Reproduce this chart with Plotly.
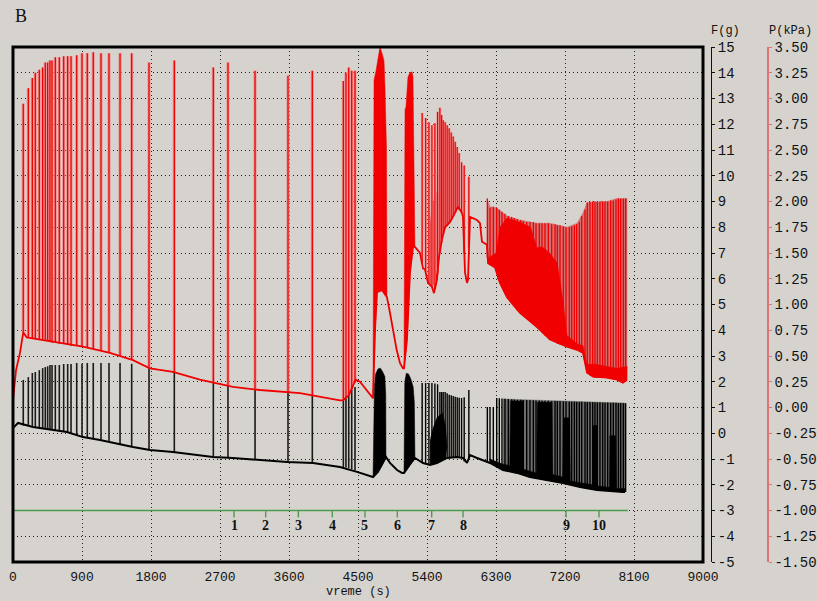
import plotly.graph_objects as go

BG = "#d6d3ce"
RED = "#f00000"
PINK = "#d27272"
HALO = "#e99a9a"
GREEN = "#4f9a4f"
FONT = "Courier New, Liberation Mono, monospace"

# ---------------- axes ----------------
x_ticks = [0, 900, 1800, 2700, 3600, 4500, 5400, 6300, 7200, 8100, 9000]
f_ticks = [-5, -4, -3, -2, -1, 0, 1, 2, 3, 4, 5, 6, 7, 8, 9, 10, 11, 12, 13, 14, 15]
p_ticks = [-1.5, -1.25, -1.0, -0.75, -0.5, -0.25, 0.0, 0.25, 0.5, 0.75, 1.0,
           1.25, 1.5, 1.75, 2.0, 2.25, 2.5, 2.75, 3.0, 3.25, 3.5]

# ---------------- red trace: pressure P (kPa) ----------------
red_base_t = [0, 39, 91, 134, 179, 482, 913, 1265, 1565, 1786, 2086, 2438, 2869, 3221, 3743,
              4264, 4304, 4380, 4470, 4526, 4591, 4657, 4696, 4722, 4748, 4813, 4878, 4917,
              4960, 5004, 5048, 5087, 5100, 5139, 5178, 5217, 5243, 5309, 5348, 5374, 5413,
              5465, 5491, 5530, 5556, 5595, 5635, 5700, 5765, 5804, 5856, 5869, 5896, 5922,
              5935, 5948, 5961, 6052, 6091, 6117, 6183, 6196, 6287, 6352, 6443, 6613, 6835,
              7004, 7226, 7357, 7435, 7487, 7565, 7748, 7878, 7956, 8009]
red_base_p = [0.07, 0.36, 0.53, 0.73, 0.68, 0.64, 0.59, 0.53, 0.46, 0.38, 0.345, 0.27, 0.20,
              0.17, 0.14, 0.07, 0.07, 0.12, 0.27, 0.25, 0.19, 0.12, 0.09, 0.75, 1.12, 1.14,
              1.07, 0.92, 0.72, 0.56, 0.43, 0.38, 0.38, 0.66, 1.31, 1.56, 1.56, 1.50, 1.35,
              1.34, 1.21, 1.17, 1.11, 1.24, 1.46, 1.63, 1.75, 1.80, 1.89, 1.95, 1.89, 1.85,
              1.31, 1.21, 1.24, 1.63, 1.85, 1.82, 1.79, 1.61, 1.58, 1.40, 1.36, 1.21, 1.07,
              0.92, 0.78, 0.66, 0.59, 0.56, 0.53, 0.34, 0.30, 0.29, 0.27, 0.24, 0.27]

spk_t = [134, 200, 252, 291, 343, 387, 421, 452, 482, 509, 552, 604, 661, 713, 757, 831, 900,
         969, 1047, 1148, 1252, 1396, 1548, 1774, 2104, 2613, 2804, 3157, 3587, 3904,
         4309, 4343, 4379, 4418, 4461]
red_spk_top = [2.95, 3.10, 3.20, 3.25, 3.28, 3.30, 3.35, 3.35, 3.37, 3.37, 3.40, 3.40, 3.41,
               3.41, 3.41, 3.42, 3.44, 3.44, 3.45, 3.44, 3.44, 3.44, 3.44, 3.35, 3.37, 3.30,
               3.35, 3.27, 3.22, 3.27, 3.17, 3.25, 3.30, 3.27, 3.27]
red_spk_bot = [0.73, 0.68, 0.67, 0.67, 0.66, 0.66, 0.65, 0.65, 0.64, 0.63, 0.63, 0.62, 0.62,
               0.61, 0.60, 0.60, 0.59, 0.58, 0.57, 0.55, 0.53, 0.50, 0.46, 0.38, 0.34, 0.24,
               0.21, 0.17, 0.15, 0.12, 0.08, 0.09, 0.12, 0.17, 0.24]

mid_t = [5337, 5382, 5425, 5464, 5503, 5538, 5568, 5590, 5611, 5637, 5663, 5689, 5716, 5742,
         5768, 5794, 5820, 5851, 5885, 5946]
red_mid_top = [2.86, 2.81, 2.77, 2.74, 2.76, 2.87, 2.91, 2.84, 2.79, 2.77, 2.74, 2.71, 2.67,
               2.63, 2.58, 2.53, 2.47, 2.38, 2.35, 2.24]
red_mid_bot = [1.40, 1.32, 1.20, 1.17, 1.15, 1.30, 1.50, 1.60, 1.68, 1.75, 1.77, 1.80, 1.82,
               1.85, 1.89, 1.93, 1.92, 1.89, 1.50, 1.55]
red_midfill_t = [5413, 5465, 5530, 5580, 5640, 5700, 5700, 5640, 5580, 5530, 5465, 5413]
red_midfill_p = [1.60, 1.95, 2.10, 2.08, 1.95, 1.82, 1.80, 1.75, 1.62, 1.24, 1.17, 1.21]

late_t = [6187, 6222, 6265, 6309, 6343, 6378, 6417, 6461, 6504, 6539, 6578, 6622, 6656, 6700,
          6743, 6787, 6822, 6865, 6900, 6939, 6983, 7026, 7070, 7100, 7135, 7178, 7213, 7256,
          7287, 7322, 7352, 7387, 7418, 7461, 7491, 7526, 7561, 7591, 7622, 7656, 7691, 7722,
          7757, 7796, 7830, 7865, 7896, 7926, 7961, 7991]
red_late_top = [2.03, 1.94, 1.95, 1.94, 1.92, 1.90, 1.88, 1.86, 1.85, 1.84, 1.83, 1.82, 1.81,
                1.80, 1.80, 1.80, 1.79, 1.79, 1.79, 1.79, 1.79, 1.78, 1.78, 1.77, 1.77, 1.76,
                1.75, 1.75, 1.76, 1.77, 1.78, 1.80, 1.86, 1.92, 1.99, 2.00, 2.00, 2.00, 2.00,
                2.00, 2.00, 2.00, 2.00, 2.01, 2.01, 2.02, 2.03, 2.03, 2.03, 2.03]
red_late_bot = [1.45, 1.40, 1.37, 1.30, 1.22, 1.17, 1.11, 1.06, 1.02, 0.98, 0.94, 0.91, 0.89,
                0.86, 0.84, 0.81, 0.79, 0.77, 0.73, 0.70, 0.67, 0.65, 0.64, 0.62, 0.61, 0.60,
                0.59, 0.58, 0.57, 0.565, 0.56, 0.55, 0.535, 0.44, 0.33, 0.31, 0.30, 0.29, 0.29,
                0.29, 0.29, 0.29, 0.285, 0.28, 0.275, 0.27, 0.26, 0.25, 0.24, 0.26]
red_env_t = [6183, 6222, 6309, 6443, 6613, 6835, 7004, 7226, 7357, 7435, 7487, 7748, 7878, 8009]
red_env_p = [2.03, 1.95, 1.94, 1.86, 1.82, 1.79, 1.79, 1.75, 1.79, 1.89, 1.99, 2.00, 2.03, 2.03]
red_solid_t = [6183, 6196, 6300, 6352, 6443, 6613, 6750, 6835, 6900, 7000, 7100, 7180, 7226,
               7357, 7435, 7487, 7600, 7748, 7878, 8009]
red_solid_p = [1.58, 1.45, 1.50, 1.75, 1.84, 1.80, 1.75, 1.55, 1.56, 1.50, 1.40, 1.00, 0.70,
               0.62, 0.60, 0.42, 0.42, 0.40, 0.38, 0.40]

red_burst1_t = [4696, 4709, 4735, 4761, 4787, 4813, 4839, 4852, 4872, 4878, 4813, 4748, 4722, 4696]
red_burst1_p = [0.09, 3.18, 3.27, 3.37, 3.50, 3.44, 3.37, 3.11, 2.50, 1.07, 1.14, 1.12, 0.75, 0.09]
red_burst2_t = [5100, 5113, 5126, 5152, 5178, 5204, 5217, 5230, 5243, 5217, 5178, 5139, 5100]
red_burst2_p = [0.38, 2.89, 2.92, 3.21, 3.25, 3.26, 3.21, 2.60, 1.56, 1.56, 1.31, 0.66, 0.38]

# ---------------- black trace: force F (g) ----------------
blk_base_t = [0, 65, 261, 704, 913, 1135, 1565, 1787, 2087, 2609, 2870, 3183, 3574, 3913, 4265,
              4487, 4696, 4760, 4820, 4865, 4917, 5009, 5074, 5100, 5180, 5243, 5348, 5439,
              5530, 5661, 5791, 5870, 5922, 5961, 6052, 6222, 6391, 6574, 6743, 6965, 7174,
              7396, 7617, 7957, 7983]
blk_base_f = [0.20, 0.40, 0.24, 0.05, -0.15, -0.26, -0.53, -0.65, -0.73, -0.92, -0.96, -1.04,
              -1.12, -1.16, -1.31, -1.50, -1.70, -1.50, -1.20, -0.92, -1.155, -1.43, -1.54,
              -1.54, -1.20, -0.96, -1.155, -1.23, -1.155, -0.96, -0.92, -0.96, -1.155, -0.85,
              -0.96, -1.155, -1.43, -1.54, -1.70, -1.82, -1.93, -2.09, -2.20, -2.28, -2.28]
blk_spk_top = [2.07, 2.18, 2.34, 2.38, 2.45, 2.53, 2.57, 2.60, 2.65, 2.65, 2.65, 2.65, 2.69,
               2.69, 2.69, 2.73, 2.70, 2.73, 2.73, 2.73, 2.73, 2.73, 2.70, 2.60, 2.40, 2.20,
               2.10, 2.00, 1.90, 1.80, 1.90, 1.90, 1.90, 1.85, 1.80]
blk_spk_bot = [0.30, 0.28, 0.25, 0.24, 0.22, 0.20, 0.18, 0.16, 0.14, 0.13, 0.11, 0.09, 0.07,
               0.05, 0.02, -0.06, -0.15, -0.18, -0.21, -0.25, -0.33, -0.43, -0.52, -0.65,
               -0.73, -0.92, -0.95, -1.03, -1.12, -1.16, -1.31, -1.33, -1.36, -1.40, -1.45]
blk_mid_top = [1.95, 1.95, 1.95, 1.95, 1.93, 1.90, 1.60, 1.60, 1.60, 1.60, 1.55, 1.50, 1.48,
               1.45, 1.42, 1.40, 1.38, 1.37, 1.40, 1.68]
blk_mid_bot = [-1.13, -1.18, -1.22, -1.22, -1.18, -1.15, -1.10, -1.05, -1.03, -1.00, -0.96,
               -0.95, -0.94, -0.93, -0.92, -0.92, -0.93, -0.95, -1.10, -0.95]
blk_midfill_t = [5440, 5480, 5530, 5600, 5640, 5661, 5640, 5600, 5530, 5480, 5440]
blk_midfill_f = [-0.30, 0.20, 0.60, 0.80, 0.30, -0.50, -1.00, -1.05, -1.155, -1.20, -1.23]
blk_late_top = [1.02, 1.02, 1.02, 1.37, 1.36, 1.35, 1.34, 1.33, 1.32, 1.31, 1.30, 1.30, 1.29,
                1.29, 1.28, 1.28, 1.27, 1.27, 1.26, 1.26, 1.26, 1.25, 1.25, 1.25, 1.25, 1.24,
                1.24, 1.23, 1.23, 1.23, 1.22, 1.22, 1.22, 1.21, 1.21, 1.21, 1.21, 1.20, 1.20,
                1.20, 1.19, 1.19, 1.19, 1.18, 1.18, 1.18, 1.17, 1.17, 1.17, 1.17]
blk_late_bot = [-1.12, -1.155, -1.22, -1.30, -1.35, -1.41, -1.44, -1.47, -1.50, -1.52, -1.54,
                -1.58, -1.62, -1.66, -1.70, -1.72, -1.74, -1.77, -1.78, -1.80, -1.83, -1.85,
                -1.87, -1.89, -1.91, -1.93, -1.96, -1.99, -2.01, -2.04, -2.06, -2.09, -2.10,
                -2.12, -2.14, -2.16, -2.17, -2.19, -2.20, -2.21, -2.22, -2.23, -2.24, -2.25,
                -2.26, -2.26, -2.27, -2.27, -2.28, -2.28]
blk_env_t = [6391, 6500, 6743, 6965, 7174, 7396, 7617, 7800, 7983]
blk_env_f = [1.33, 1.32, 1.29, 1.26, 1.25, 1.23, 1.21, 1.19, 1.17]
blk_solid_t = [6222, 6391, 6480, 6490, 6650, 6660, 6830, 6840, 7030, 7040, 7170, 7180, 7260,
               7270, 7560, 7565, 7617, 7625, 7780, 7785, 7860, 7870, 7983]
blk_solid_f = [-1.00, -1.20, -1.25, 1.25, 1.25, -1.40, -1.55, 1.20, 1.20, -1.60, -1.70, 0.60,
               0.60, -1.85, -2.00, 0.30, 0.30, -2.05, -2.10, -0.10, -0.10, -2.15, -2.15]
blk_burst1_t = [4696, 4715, 4730, 4760, 4790, 4820, 4850, 4862, 4865, 4820, 4760, 4696]
blk_burst1_f = [-1.70, 1.90, 2.30, 2.50, 2.53, 2.40, 2.20, 1.50, -0.92, -1.20, -1.50, -1.70]
blk_burst2_t = [5100, 5110, 5130, 5160, 5190, 5220, 5235, 5243, 5180, 5130, 5100]
blk_burst2_f = [-1.54, 2.00, 2.33, 2.30, 2.10, 1.80, 1.20, -0.96, -1.20, -1.45, -1.54]

# ---------------- green marker line ----------------
green_t = [0, 8020]
green_f = [-3, -3]
mark_t = [2883, 3296, 3722, 4165, 4591, 5013, 5461, 5870, 7213, 7643]
mark_lbl = ["1", "2", "3", "4", "5", "6", "7", "8", "9", "10"]


def spikes(ts, bots, tops):
    xs, ys = [], []
    for t, b, h in zip(ts, bots, tops):
        xs += [t, t, None]
        ys += [b, h, None]
    return xs, ys


def band(hi_t, hi_v, lo_t, lo_v):
    return list(hi_t) + list(lo_t)[::-1], list(hi_v) + list(lo_v)[::-1]


fig = go.Figure()


def line(x, y, color, width, yaxis="y"):
    fig.add_trace(go.Scatter(x=x, y=y, mode="lines", yaxis=yaxis, hoverinfo="skip",
                             line=dict(color=color, width=width), showlegend=False))


def poly(x, y, color, yaxis="y", lw=0.5):
    fig.add_trace(go.Scatter(x=x, y=y, mode="lines", fill="toself", fillcolor=color,
                             yaxis=yaxis, hoverinfo="skip",
                             line=dict(color=color, width=lw), showlegend=False))


# green line + markers
line(green_t, green_f, GREEN, 1.4)
gx, gy = spikes(mark_t, [-3.0] * len(mark_t), [-3.27] * len(mark_t))
line(gx, gy, GREEN, 1.4)

# black (F axis)
i0 = blk_base_t.index(6391)
bx, by = band(blk_env_t, blk_env_f, blk_base_t[i0:], blk_base_f[i0:])
poly(bx, by, "#6e6e6e")
i1 = blk_base_t.index(6222)
bx, by = band(blk_solid_t, blk_solid_f, blk_base_t[i1:], blk_base_f[i1:])
poly(bx, by, "#000000")
poly(blk_midfill_t, blk_midfill_f, "#000000")
sx, sy = spikes(spk_t, blk_spk_bot, blk_spk_top)
line(sx, sy, "#1a1a1a", 1.6)
sx, sy = spikes(mid_t, blk_mid_bot, blk_mid_top)
line(sx, sy, "#000000", 1.4)
sx, sy = spikes(late_t, blk_late_bot, blk_late_top)
line(sx, sy, "#000000", 1.4)
line(blk_base_t, blk_base_f, "#000000", 2)
poly(blk_burst1_t, blk_burst1_f, "#000000")
poly(blk_burst2_t, blk_burst2_f, "#000000")

# red (P axis)
j0 = red_base_t.index(6183)
rx, ry = band(red_env_t, red_env_p, red_base_t[j0:], red_base_p[j0:])
poly(rx, ry, PINK, "y2")
rx, ry = band(red_solid_t, red_solid_p, red_base_t[j0:], red_base_p[j0:])
poly(rx, ry, RED, "y2")
poly(red_midfill_t, red_midfill_p, RED, "y2")
sx, sy = spikes(spk_t, red_spk_bot, red_spk_top)
line(sx, sy, HALO, 3.2, "y2")
line(sx, sy, RED, 1.3, "y2")
sx, sy = spikes(mid_t, red_mid_bot, red_mid_top)
line(sx, sy, HALO, 2.6, "y2")
line(sx, sy, RED, 1.2, "y2")
sx, sy = spikes(late_t, red_late_bot, red_late_top)
line(sx, sy, RED, 1.3, "y2")
line(red_base_t, red_base_p, RED, 1.8, "y2")
poly(red_burst1_t, red_burst1_p, RED, "y2")
poly(red_burst2_t, red_burst2_p, RED, "y2")

# ---------------- layout ----------------
W, H = 817, 601
ML, MR, MT, MB = 13, 0, 47, 39
PW = W - ML - MR
xdom = 690 / PW
posF = (711 - ML) / PW
posP = (768 - ML) / PW

annotations = [
    dict(text="B", x=0.0, y=(562 - 16) / 515, xref="paper", yref="paper", xanchor="left",
         yanchor="middle", showarrow=False, font=dict(family="Liberation Serif, serif", size=18, color="#111")),
    dict(text="F(g)", x=posF - 0.002, y=(562 - 31) / 515, xref="paper", yref="paper",
         xanchor="left", yanchor="middle", showarrow=False, font=dict(family=FONT, size=12, color="#111")),
    dict(text="P(kPa)", x=posP - 0.001, y=(562 - 31) / 515, xref="paper", yref="paper",
         xanchor="left", yanchor="middle", showarrow=False, font=dict(family=FONT, size=12, color="#111")),
    dict(text="vreme (s)", x=xdom / 2, y=(562 - 592) / 515, xref="paper", yref="paper",
         xanchor="center", yanchor="middle", showarrow=False, font=dict(family=FONT, size=12, color="#111")),
]
for t, s in zip(mark_t, mark_lbl):
    annotations.append(dict(text="<b>%s</b>" % s, x=t, y=-3.6, xref="x", yref="y",
                            xanchor="center", yanchor="middle", showarrow=False,
                            font=dict(family="Liberation Serif, serif", size=14, color="#111")))

fig.update_layout(
    width=W, height=H, autosize=False,
    margin=dict(l=ML, r=MR, t=MT, b=MB, pad=0, autoexpand=False),
    paper_bgcolor=BG, plot_bgcolor=BG,
    showlegend=False,
    xaxis=dict(domain=[0, xdom], range=[0, 9000], tickvals=x_ticks, automargin=False,
               ticktext=[str(v) for v in x_ticks], showgrid=True, griddash="1px,3px",
               gridcolor="#222", gridwidth=1, zeroline=False, showline=False,
               ticks="outside", ticklen=2, tickcolor=BG,
               tickfont=dict(family=FONT, size=13, color="#111"), fixedrange=True),
    yaxis=dict(range=[-5, 15], side="right", anchor="free", position=posF, automargin=False,
               tickvals=f_ticks, ticktext=[str(v) for v in f_ticks],
               showline=True, linecolor="#111", linewidth=1, ticks="outside", ticklen=3,
               tickcolor="#111", showgrid=True, griddash="1px,3px", gridcolor="#222",
               gridwidth=1, zeroline=False,
               tickfont=dict(family=FONT, size=14, color="#111")),
    yaxis2=dict(range=[-1.5, 3.5], overlaying="y", side="right", anchor="free", position=posP,
                automargin=False,
                tickvals=p_ticks, ticktext=["%.2f" % v for v in p_ticks],
                showline=True, linecolor="#dc7676", linewidth=1.5, ticks="outside", ticklen=3,
                tickcolor="#dc7676", showgrid=False, zeroline=False,
                tickfont=dict(family=FONT, size=14, color="#111")),
    shapes=[dict(type="rect", xref="paper", yref="paper", x0=0, x1=xdom, y0=0, y1=1,
                 line=dict(color="#000", width=3), layer="above")],
    annotations=annotations,
)

fig.write_html("out.html")
